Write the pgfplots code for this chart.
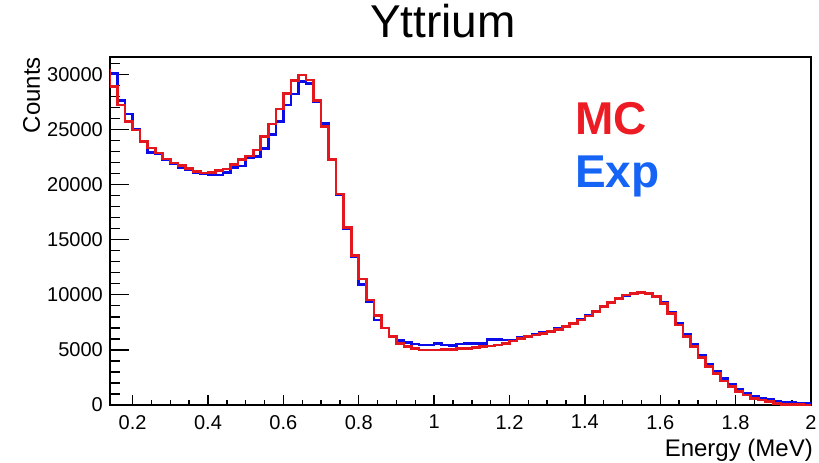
\documentclass[border=0pt]{standalone}
\usepackage{fontspec}
\setmainfont{Liberation Sans}
\usepackage{pgfplots}
\usepackage{pgfplotstable}
\pgfplotsset{compat=1.18}
\definecolor{mcred}{RGB}{228,22,30}
\definecolor{expblue}{RGB}{12,12,232}
\definecolor{legred}{RGB}{237,28,36}
\definecolor{legblue}{RGB}{22,100,245}

\pgfplotstableread{
x y
0.12 30400
0.14 28900
0.16 27200
0.18 25700
0.20 24950
0.22 23900
0.24 23300
0.26 22850
0.28 22300
0.30 21950
0.32 21700
0.34 21450
0.36 21200
0.38 21050
0.40 21100
0.42 21250
0.44 21400
0.46 21800
0.48 22250
0.50 22600
0.52 23150
0.54 24350
0.56 25500
0.58 26850
0.60 28280
0.62 29450
0.64 29950
0.66 29500
0.68 27650
0.70 25250
0.72 22250
0.74 19150
0.76 16080
0.78 13550
0.80 11420
0.82 9530
0.84 8130
0.86 7000
0.88 6200
0.90 5600
0.92 5290
0.94 5100
0.96 5000
0.98 4990
1.00 5000
1.02 5050
1.04 5050
1.06 5100
1.08 5140
1.10 5230
1.12 5290
1.14 5350
1.16 5440
1.18 5600
1.20 5800
1.22 6050
1.24 6200
1.26 6350
1.28 6500
1.30 6650
1.32 6870
1.34 7110
1.36 7410
1.38 7710
1.40 8080
1.42 8470
1.44 8920
1.46 9320
1.48 9680
1.50 9980
1.52 10130
1.54 10190
1.56 10130
1.58 9830
1.60 9230
1.62 8320
1.64 7260
1.66 6200
1.68 5290
1.70 4330
1.72 3480
1.74 2870
1.76 2180
1.78 1660
1.80 1210
1.82 910
1.84 600
1.86 450
1.88 300
1.90 150
1.92 60
1.94 30
1.96 20
1.98 10
2.00 10
}\mcdata

\pgfplotstableread{
x y
0.12 30100
0.14 30100
0.16 27650
0.18 26400
0.20 25000
0.22 23900
0.24 22900
0.26 22780
0.28 22230
0.30 21870
0.32 21570
0.34 21320
0.36 21080
0.38 20960
0.40 20870
0.42 20870
0.44 21080
0.46 21570
0.48 21690
0.50 22470
0.52 22530
0.54 23290
0.56 24530
0.58 25710
0.60 27200
0.62 28230
0.64 29370
0.66 29190
0.68 27520
0.70 25560
0.72 22230
0.74 19120
0.76 16030
0.78 13460
0.80 10950
0.82 9350
0.84 7710
0.86 6990
0.88 6260
0.90 5840
0.92 5690
0.94 5540
0.96 5440
0.98 5440
1.00 5600
1.02 5440
1.04 5380
1.06 5540
1.08 5600
1.10 5600
1.12 5600
1.14 5950
1.16 5950
1.18 5900
1.20 5850
1.22 6100
1.24 6250
1.26 6400
1.28 6550
1.30 6700
1.32 6920
1.34 7150
1.36 7450
1.38 7750
1.40 8100
1.42 8500
1.44 8950
1.46 9300
1.48 9680
1.50 9950
1.52 10130
1.54 10190
1.56 10150
1.58 9880
1.60 9330
1.62 8450
1.64 7420
1.66 6380
1.68 5470
1.70 4550
1.72 3720
1.74 3050
1.76 2420
1.78 1880
1.80 1420
1.82 1100
1.84 820
1.86 640
1.88 480
1.90 350
1.92 260
1.94 200
1.96 160
1.98 140
2.00 140
}\expdata

\begin{document}
\begin{tikzpicture}
\useasboundingbox (-110bp,-58bp) rectangle (709bp,405bp);
\begin{axis}[
  at={(0,0)}, anchor=south west,
  scale only axis, width=701bp, height=348bp,
  xmin=0.14, xmax=2.0, ymin=0, ymax=31570,
  axis line style={line width=1.6bp, black},
  xtick={0.2,0.4,0.6,0.8,1,1.2,1.4,1.6,1.8,2},
  minor x tick num=3,
  ytick={0,1000,2000,3000,4000,5000,6000,7000,8000,9000,10000,11000,12000,13000,14000,15000,16000,17000,18000,19000,20000,21000,22000,23000,24000,25000,26000,27000,28000,29000,30000,31000},
  yticklabels={},
  extra y ticks={0,5000,10000,15000,20000,25000,30000},
  extra y tick labels={0,5000,10000,15000,20000,25000,30000},
  extra y tick style={major tick length=19bp},
  tick align=inside,
  xtick pos=left, ytick pos=left,
  scaled y ticks=false, scaled x ticks=false,
  /pgf/number format/1000 sep={},
  /pgf/number format/assume math mode=true,
  ticklabel style={font=\fontsize{20bp}{24bp}\selectfont},
  xticklabel style={inner sep=0pt, yshift=-10bp},
  yticklabel style={inner sep=0pt, xshift=-7bp},
  tick style={line width=1.4bp, black},
  major tick length=10bp, minor tick length=5bp,
  title={Yttrium},
  title style={font=\fontsize{46bp}{50bp}\selectfont, at={(0.475,1)}, anchor=base, yshift=14bp, inner sep=0pt},
  xlabel={Energy (MeV)},
  xlabel style={font=\fontsize{24bp}{28bp}\selectfont, at={(1,0)}, anchor=base east, yshift=-51bp, xshift=2bp, inner sep=0pt},
  ylabel={Counts},
  ylabel style={font=\fontsize{24bp}{28bp}\selectfont, at={(-0.1,1)}, anchor=base east, inner sep=0pt},
]
\addplot[const plot, expblue, line width=2.6bp] table[x=x, y=y] {\expdata};
\addplot[const plot, mcred, line width=2.6bp] table[x=x, y=y] {\mcdata};
\node[anchor=base west, inner sep=0pt, text=legred, font=\fontsize{46bp}{50bp}\selectfont\bfseries] at (rel axis cs:0.6633,0.7759) {MC};
\node[anchor=base west, inner sep=0pt, text=legblue, font=\fontsize{46bp}{50bp}\selectfont\bfseries] at (rel axis cs:0.6633,0.6236) {Exp};
\end{axis}
\end{tikzpicture}
\end{document}
